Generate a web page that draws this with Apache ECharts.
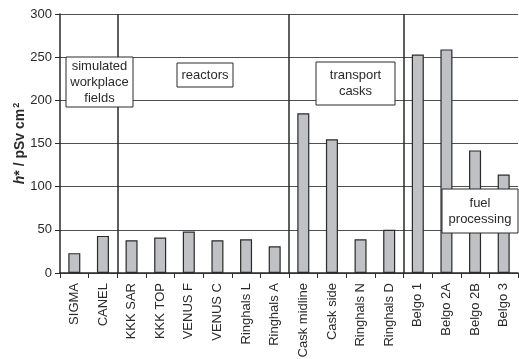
<!DOCTYPE html>
<html>
<head>
<meta charset="utf-8">
<script src="https://cdn.jsdelivr.net/npm/echarts@6/dist/echarts.min.js"></script>
<style>
  html, body { margin: 0; padding: 0; background: #fff; }
  #chart { width: 519px; height: 359px; }
</style>
</head>
<body>
<div id="chart"></div>
<script>
// Measurement fields
const categories = [
  'SIGMA', 'CANEL', 'KKK SAR', 'KKK TOP', 'VENUS F', 'VENUS C',
  'Ringhals L', 'Ringhals A', 'Cask midline', 'Cask side',
  'Ringhals N', 'Ringhals D', 'Belgo 1', 'Belgo 2A', 'Belgo 2B', 'Belgo 3'
];
// Dose conversion coefficient h* in pSv cm²
const hStar = [23, 43, 38, 41, 48, 38, 39, 31, 185, 155, 39, 50, 253, 259, 142, 114];
// Boundaries (in category units) between groups of fields
const groupBounds = [2, 8, 12];
const yTicks = { min: 0, max: 300, interval: 50 };

const FONT = 'Liberation Sans, Arial, sans-serif';
const INK = '#2a2a2a';

function box(x, y, w, h, lines) {
  return {
    type: 'group', x: x, y: y, z: 100,
    children: [
      { type: 'rect', z: 100, shape: { x: 0, y: 0, width: w, height: h },
        style: { fill: '#ffffff', stroke: INK, lineWidth: 1 } },
      { type: 'text', z: 101, x: w / 2, y: h / 2,
        style: { text: lines.join('\n'), fill: INK, font: '13px ' + FONT,
                 align: 'center', verticalAlign: 'middle', lineHeight: 16 } }
    ]
  };
}

const chart = echarts.init(document.getElementById('chart'), null, { renderer: 'canvas' });
chart.setOption({
  animation: false,
  grid: { left: 60, right: 1, top: 14, bottom: 86, outerBoundsMode: 'none', containLabel: false },
  xAxis: [{
    type: 'category',
    data: categories,
    axisLine: { lineStyle: { color: INK, width: 1.5 } },
    axisTick: { show: true, length: 5, lineStyle: { color: INK, width: 1 } },
    axisLabel: { rotate: 90, margin: 10, color: INK, fontSize: 13, fontFamily: FONT },
    splitLine: { show: false }
  }, {
    type: 'value', min: 0, max: categories.length, show: false
  }],
  yAxis: {
    type: 'value',
    min: yTicks.min, max: yTicks.max, interval: yTicks.interval,
    name: '{i|h}{b|* / pSv cm}{s|2}',
    nameLocation: 'middle',
    nameRotate: 90,
    nameGap: 32,
    nameMoveOverlap: false,
    nameTextStyle: {
      rich: {
        i: { fontStyle: 'italic', fontWeight: 'bold', fontSize: 14, fontFamily: FONT, color: INK, lineHeight: 16 },
        b: { fontWeight: 'bold', fontSize: 14, fontFamily: FONT, color: INK, lineHeight: 16 },
        s: { fontWeight: 'bold', fontSize: 9, fontFamily: FONT, color: INK, verticalAlign: 'top', lineHeight: 16, padding: [0, 0, 6, 1] }
      }
    },
    axisLine: { show: true, lineStyle: { color: INK, width: 1.5 } },
    axisTick: { show: true, length: 5, lineStyle: { color: INK } },
    axisLabel: { color: INK, fontSize: 13, fontFamily: FONT, margin: 8 },
    splitLine: { show: true, lineStyle: { color: '#505050', width: 1 } }
  },
  series: [{
    type: 'bar',
    data: hStar,
    barWidth: '42%',
    itemStyle: { color: '#c0c1c5', borderColor: INK, borderWidth: 1.2 }
  }, {
    type: 'scatter',
    xAxisIndex: 1,
    data: [],
    silent: true,
    markLine: {
      silent: true,
      symbol: 'none',
      label: { show: false },
      lineStyle: { color: INK, width: 1.5, type: 'solid' },
      data: groupBounds.map(v => ({ xAxis: v }))
    }
  }],
  graphic: [
    box(66, 57, 67, 50, ['simulated', 'workplace', 'fields']),
    box(177, 63, 56, 24, ['reactors']),
    box(316, 62, 79, 43, ['transport', 'casks']),
    box(442, 189, 76, 44, ['fuel', 'processing'])
  ]
});
</script>
</body>
</html>
